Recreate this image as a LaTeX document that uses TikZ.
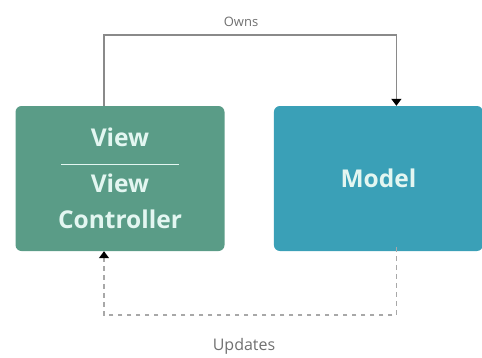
\documentclass[tikz,border=0pt]{standalone}
\usepackage{fontspec}
\setmainfont{Open Sans}
\usetikzlibrary{positioning,arrows.meta}
\definecolor{vcgreen}{HTML}{5A9C87}
\definecolor{mdlblue}{HTML}{3AA0B7}
\definecolor{boxtext}{HTML}{E3F6F1}
\definecolor{linegray}{HTML}{8A8A8A}
\definecolor{dashgray}{HTML}{A8A8A8}
\definecolor{labelgray}{HTML}{707070}

\begin{document}
\begin{tikzpicture}[x=1pt,y=-1pt,node distance=49pt,
  block/.style={rectangle,rounded corners=6pt,minimum width=209pt,minimum height=145pt,text=boxtext,font=\fontsize{24.5}{36}\selectfont\bfseries,align=center,inner sep=0pt},
  owns/.style={draw=linegray,line width=1.5pt,-{Triangle[length=7pt,width=10pt,color=black]}},
  updates/.style={draw=dashgray,line width=1.5pt,dash pattern=on 4.5pt off 4.5pt,-{Triangle[length=7pt,width=10pt,color=black]}},
  tag/.style={text=labelgray,inner sep=0pt}]
\useasboundingbox (0,0) rectangle (482,357);
\node[block,fill=vcgreen] (VC) at (120,178.5) {View\\[-17.5pt]\rule{118pt}{1.6pt}\\[-8.5pt]View\\Controller};
\node[block,fill=mdlblue,right=of VC] (M) {Model};
\coordinate (A) at ([xshift=-16pt]VC.north);
\coordinate (B) at ([xshift=18pt]M.north);
\coordinate (C) at ([xshift=18pt]M.south);
\coordinate (D) at ([xshift=-16pt]VC.south);
\draw[owns] (A) -- ++(0,-71) -| (B);
\draw[updates] ([yshift=4pt]C) -- ++(0,68) -| (D);
\node[tag,font=\fontsize{13}{15}\selectfont] (ownslbl) at (241,22) {Owns};
\node[tag,font=\fontsize{16}{18}\selectfont] (updlbl) at (244,346) {Updates};
\end{tikzpicture}
\end{document}
